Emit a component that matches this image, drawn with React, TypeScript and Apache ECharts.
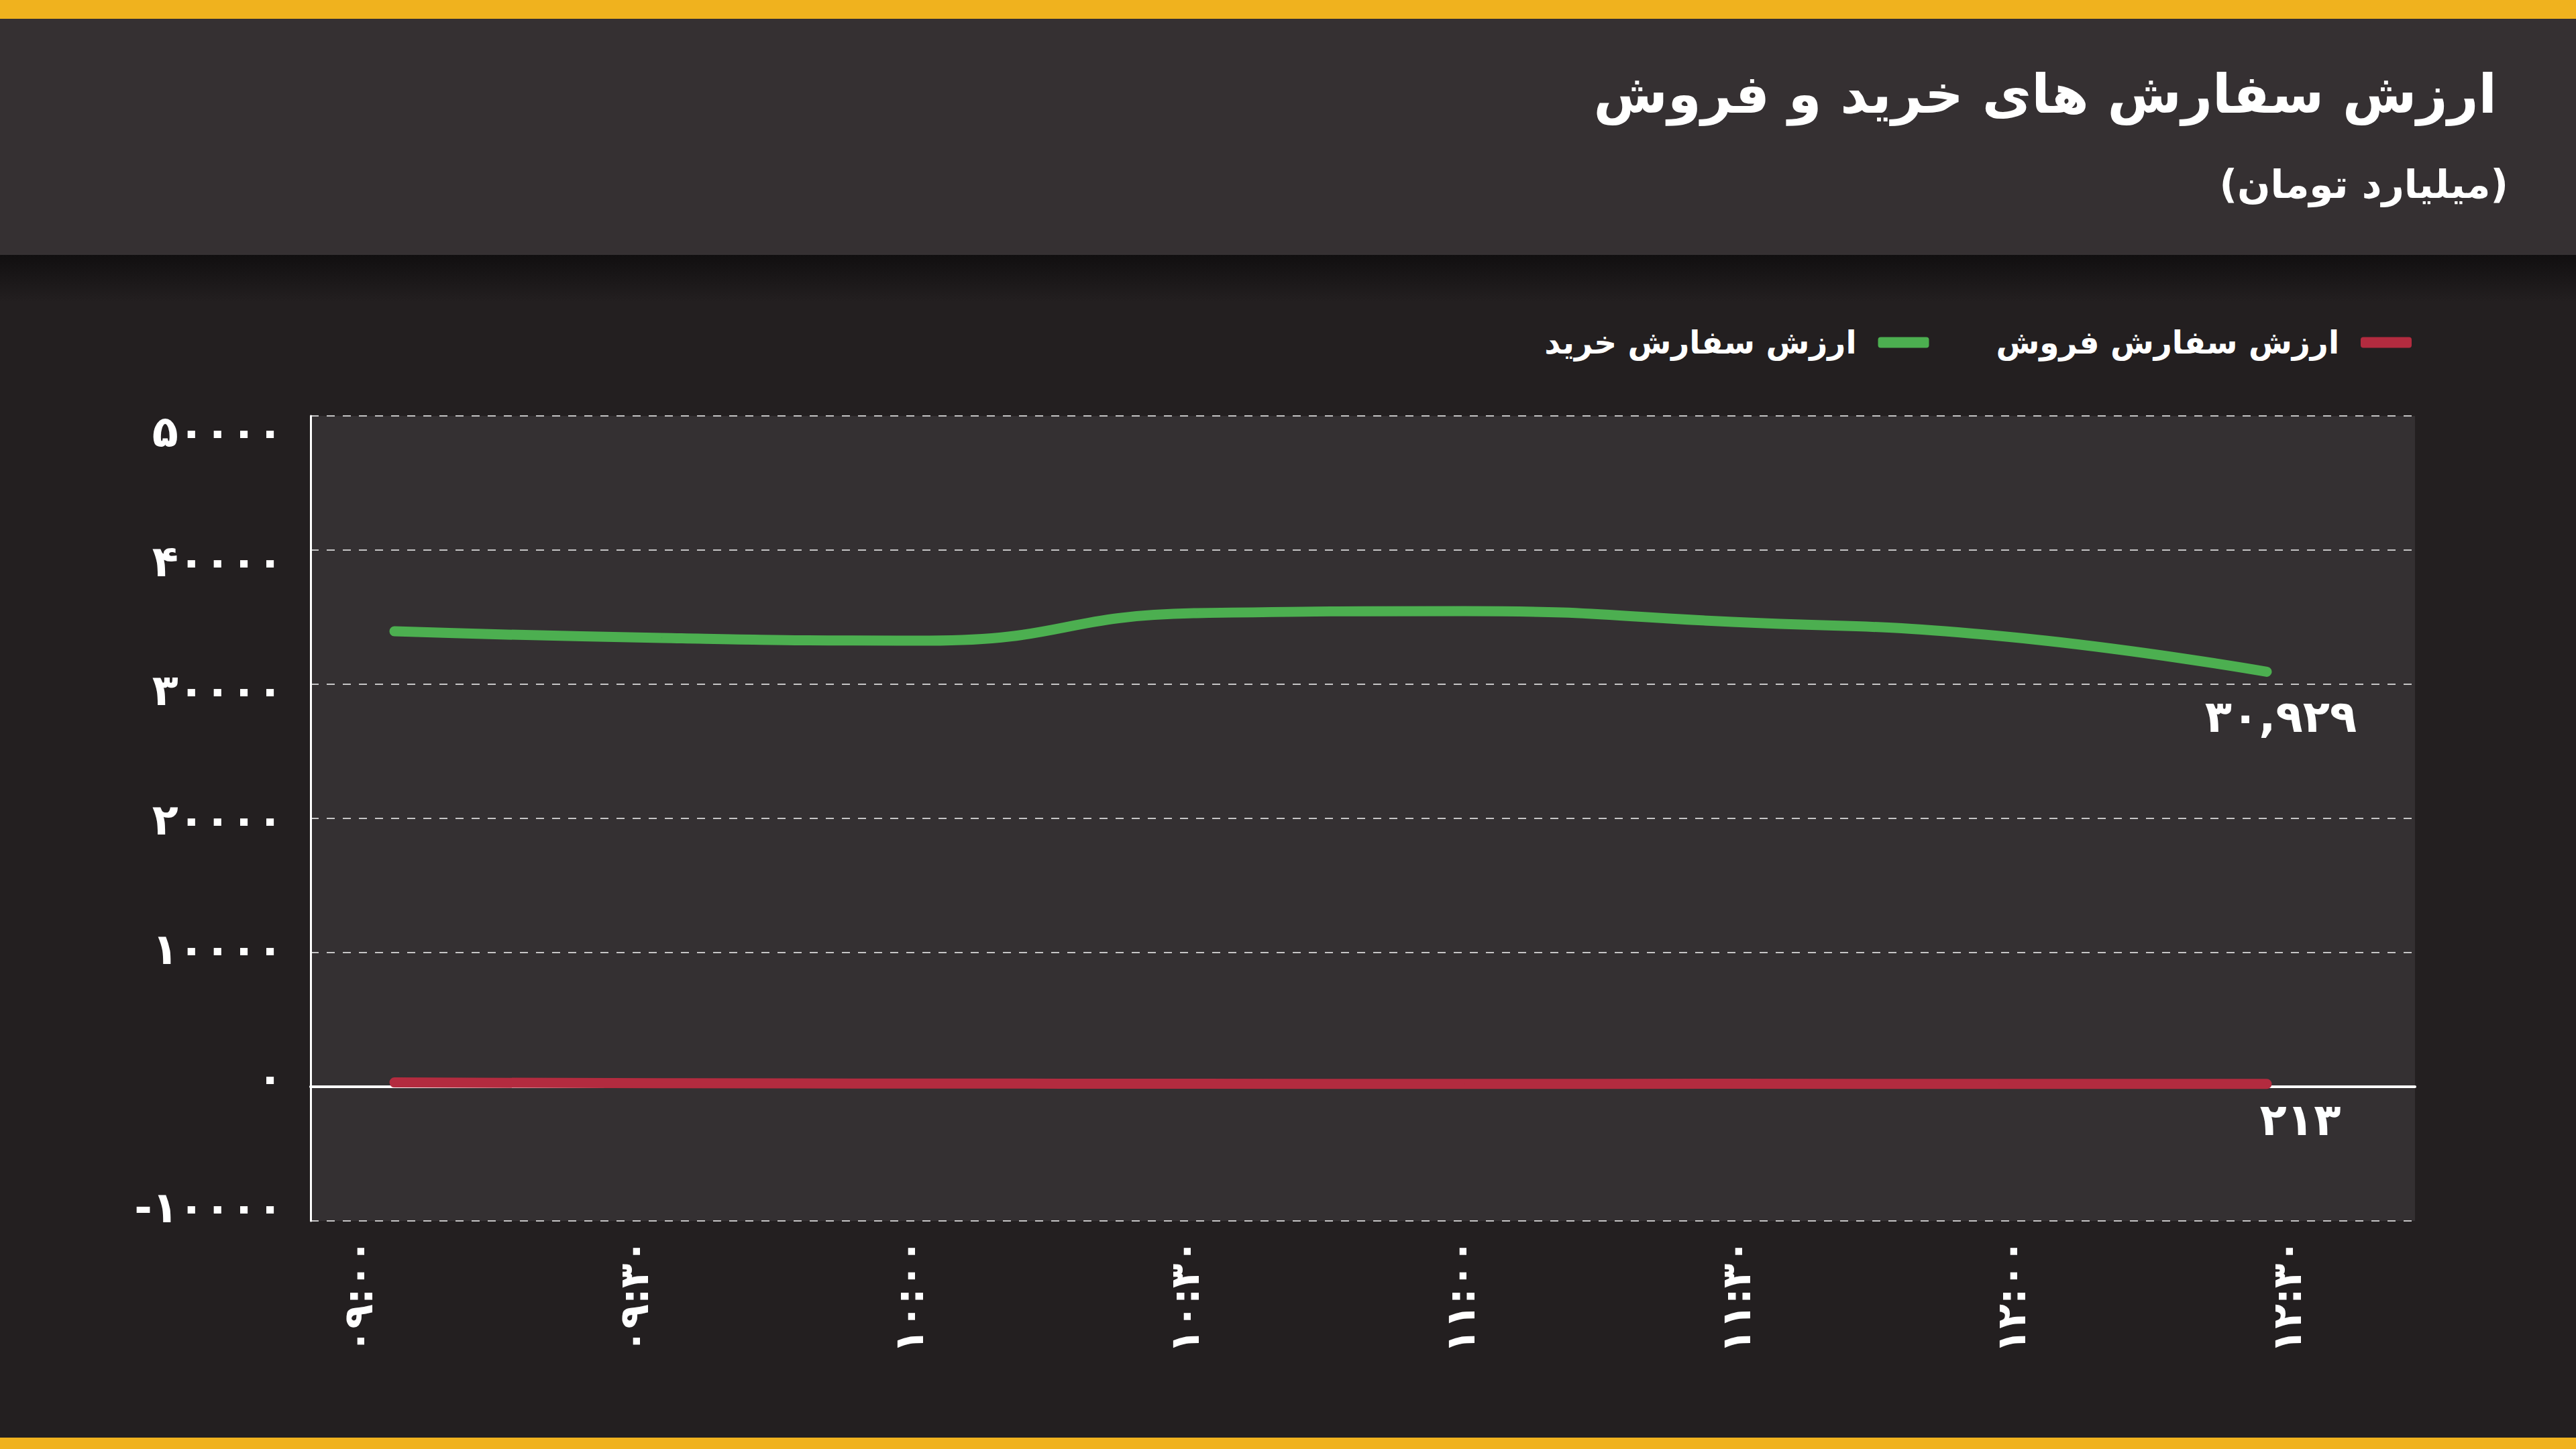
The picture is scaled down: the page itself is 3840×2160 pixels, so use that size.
import { useEffect, useRef } from "react";
import * as echarts from "echarts";

const times = ["09:00", "09:30", "10:00", "10:30", "11:00", "11:30", "12:00", "12:30"];
const buyValues = [33950, 33450, 33250, 35300, 35450, 34650, 33600, 30929];
const sellValues = [320, 260, 240, 220, 210, 220, 215, 213];
const yTicks = { min: -10000, max: 50000, step: 10000 };

const buyName = "ارزش سفارش خرید";
const sellName = "ارزش سفارش فروش";
const titleText = "ارزش سفارش های خرید و فروش";
const subTitleText = "(میلیارد تومان)";

const FONT = "'DejaVu Sans', 'Noto Sans', sans-serif";
const GREEN = "#4caf50";
const RED = "#b32b3f";

// latin digits -> persian digits
const fa = (s: string | number) =>
  String(s).replace(/[0-9]/g, (d) => "۰۱۲۳۴۵۶۷۸۹"[Number(d)]);

const withComma = (n: number) =>
  String(n).replace(/\B(?=(\d{3})+(?!\d))/g, ",");

const lastLabel = (arr: number[], offset: number[], distance: number) =>
  arr.map((v, i) =>
    i === arr.length - 1
      ? {
          value: v,
          label: {
            show: true,
            position: "bottom",
            distance,
            offset,
            formatter: fa(withComma(v)),
            color: "#ffffff",
            fontSize: 66,
            fontWeight: "bold",
            fontFamily: FONT,
          },
        }
      : v
  );

const App = () => {
  const ref = useRef<HTMLDivElement | null>(null);

  useEffect(() => {
    if (!ref.current) return;
    const chart = echarts.init(ref.current, null, { renderer: "svg" });

    const option = {
      animation: false,
      backgroundColor: "#231f20",
      graphic: [
        { type: "rect", shape: { x: 0, y: 0, width: 3840, height: 28 }, style: { fill: "#f0b21e" }, z: -10 },
        { type: "rect", shape: { x: 0, y: 28, width: 3840, height: 352 }, style: { fill: "#353032" }, z: -10 },
        {
          type: "rect",
          shape: { x: 0, y: 380, width: 3840, height: 70 },
          style: {
            fill: new echarts.graphic.LinearGradient(0, 0, 0, 1, [
              { offset: 0, color: "#110f10" },
              { offset: 1, color: "#231f20" },
            ]),
          },
          z: -10,
        },
        { type: "rect", shape: { x: 0, y: 2143, width: 3840, height: 17 }, style: { fill: "#f0b21e" }, z: -10 },
        {
          type: "text",
          right: 118,
          top: 100,
          style: { text: titleText, fill: "#ffffff", font: `bold 80px ${FONT}` },
        },
        {
          type: "text",
          right: 101,
          top: 246,
          style: { text: subTitleText, fill: "#ffffff", font: `bold 58px ${FONT}` },
        },
      ],
      legend: {
        data: [buyName, sellName],
        right: 240,
        top: 482,
        align: "right",
        icon: "roundRect",
        itemWidth: 76,
        itemHeight: 16,
        itemGap: 100,
        textStyle: {
          color: "#ffffff",
          fontSize: 47,
          fontWeight: "bold",
          fontFamily: FONT,
          padding: [0, 27, 0, 0],
        },
      },
      grid: [
        // plot frame: background, gridlines, zero line
        { left: 463, right: 240, top: 620, bottom: 340, show: true, backgroundColor: "#343032", borderWidth: 0 },
        // series
        { left: 588, right: 461, top: 620, bottom: 340 },
        // tick labels
        { left: 534, right: 431, top: 644, bottom: 360 },
      ],
      xAxis: [
        {
          gridIndex: 0,
          type: "category",
          data: times,
          axisLine: { show: true, onZero: true, lineStyle: { color: "#ffffff", width: 4 } },
          axisTick: { show: false },
          axisLabel: { show: false },
        },
        { gridIndex: 1, type: "category", data: times, boundaryGap: false, show: false },
        {
          gridIndex: 2,
          type: "category",
          data: times,
          boundaryGap: false,
          axisLine: { show: false },
          axisTick: { show: false },
          axisLabel: {
            rotate: 90,
            margin: 47,
            color: "#ffffff",
            fontSize: 60,
            fontWeight: "bold",
            fontFamily: FONT,
            formatter: (v: string) => fa(v),
          },
        },
      ],
      yAxis: [
        {
          gridIndex: 0,
          type: "value",
          min: yTicks.min,
          max: yTicks.max,
          interval: yTicks.step,
          axisLine: { show: true, lineStyle: { color: "#ffffff", width: 3 } },
          axisTick: { show: false },
          axisLabel: { show: false },
          splitLine: { lineStyle: { color: "rgba(235,235,235,0.8)", width: 2, type: [12, 12] } },
        },
        { gridIndex: 1, type: "value", min: yTicks.min, max: yTicks.max, show: false },
        {
          gridIndex: 2,
          type: "value",
          min: yTicks.min,
          max: yTicks.max,
          interval: yTicks.step,
          axisLine: { show: false },
          axisTick: { show: false },
          splitLine: { show: false },
          axisLabel: {
            margin: 112,
            color: "#ffffff",
            fontSize: 64,
            fontWeight: "bold",
            fontFamily: FONT,
            formatter: (v: number) => fa(v),
          },
        },
      ],
      series: [
        {
          name: buyName,
          type: "line",
          xAxisIndex: 1,
          yAxisIndex: 1,
          data: lastLabel(buyValues, [21, 0], 34),
          smooth: 0.5,
          symbol: "circle",
          symbolSize: 1,
          itemStyle: { color: GREEN },
          lineStyle: { color: GREEN, width: 15, cap: "round" },
          z: 5,
        },
        {
          name: sellName,
          type: "line",
          xAxisIndex: 1,
          yAxisIndex: 1,
          data: lastLabel(sellValues, [50, 0], 20),
          smooth: 0.5,
          symbol: "circle",
          symbolSize: 1,
          itemStyle: { color: RED },
          lineStyle: { color: RED, width: 15, cap: "round" },
          z: 5,
        },
      ],
    };

    chart.setOption(option);
    return () => chart.dispose();
  }, []);

  return (
    <div
      ref={ref}
      style={{ position: "fixed", left: 0, top: 0, width: 3840, height: 2160 }}
    />
  );
};

export default App;
